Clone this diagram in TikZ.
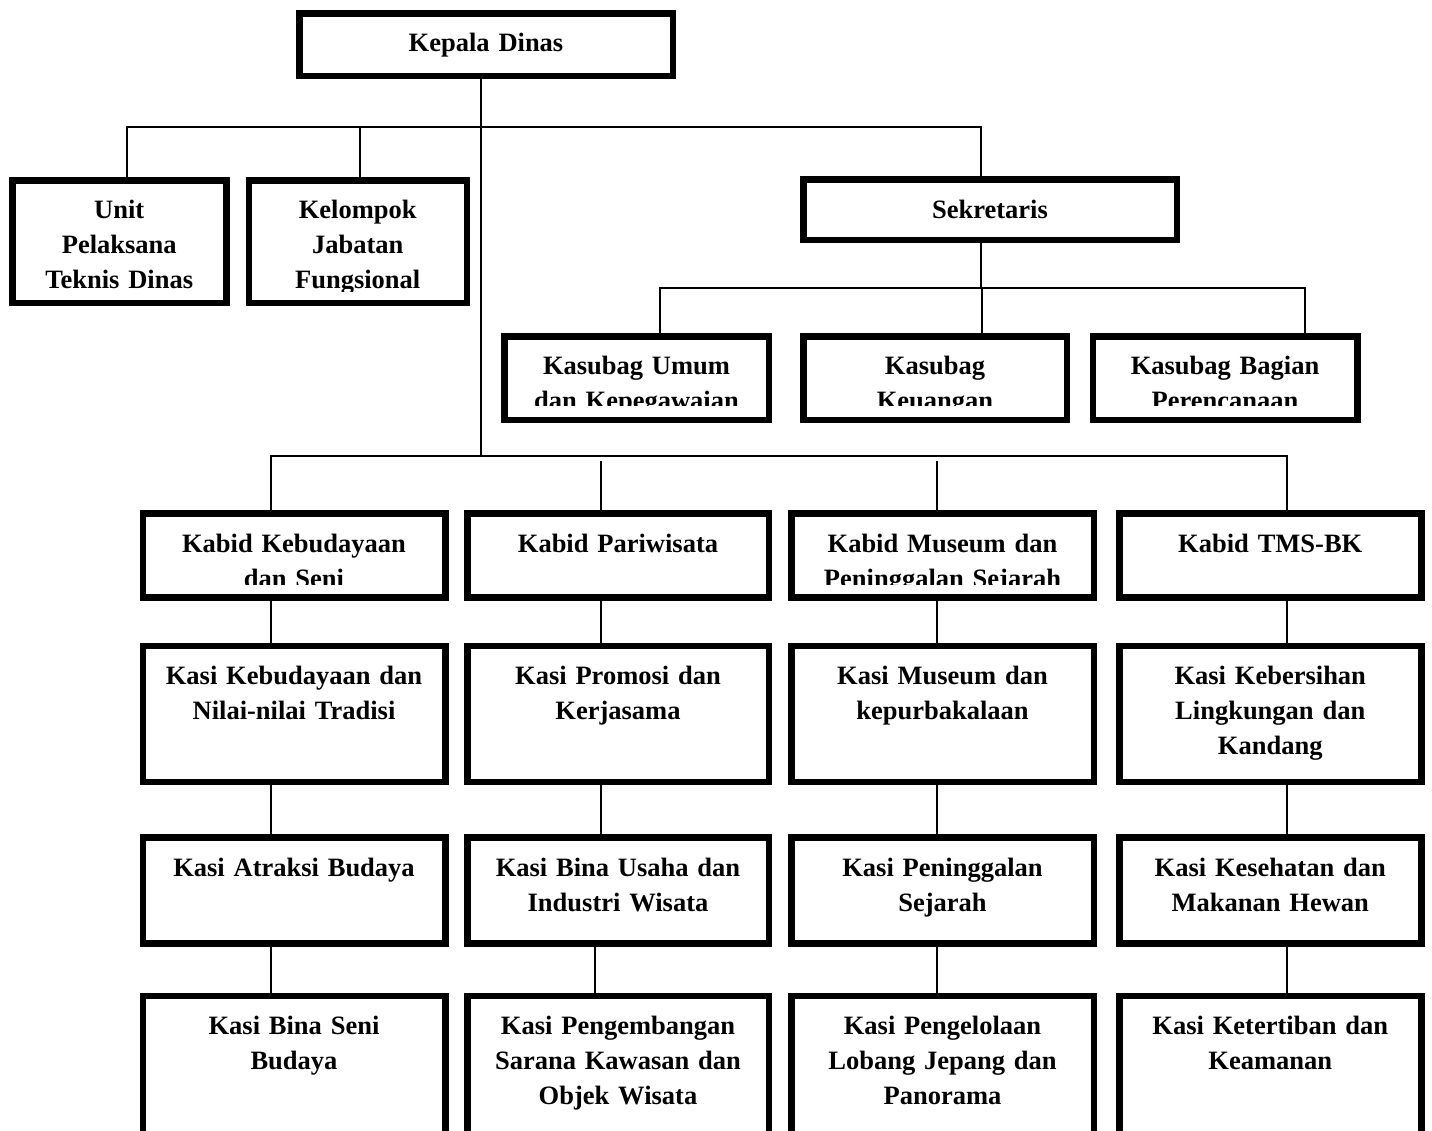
\documentclass[tikz,border=0pt]{standalone}
\usepackage{fontspec}
\setmainfont{Liberation Serif}
\begin{document}
\begin{tikzpicture}[x=1pt,y=-1pt,
  box/.style={draw, line width=6.5pt, inner sep=0pt, fill=none},
  lbl/.style={font=\fontsize{26.5}{35}\selectfont\bfseries, align=center, inner sep=0pt, text width=330pt, anchor=base},
  conn/.style={draw, line width=1.8pt}]
\clip (0,0) rectangle (1432,1130);
\fill[white] (0,0) rectangle (1432,1130);

% ---------- boxes ----------
\node[box, minimum width=373.5pt, minimum height=62.5pt] (kepala) at (486,44.5) {};
\node[box, minimum width=214pt, minimum height=122.5pt] (unit) at (119.25,241.5) {};
\node[box, minimum width=218pt, minimum height=122.5pt] (kel) at (357.75,241.5) {};
\node[box, minimum width=373.5pt, minimum height=60.5pt] (sek) at (990,209.5) {};
\node[box, minimum width=264.5pt, minimum height=83.5pt] (ks1) at (636.5,378) {};
\node[box, minimum width=263.5pt, minimum height=83.5pt] (ks2) at (935,378) {};
\node[box, minimum width=264.5pt, minimum height=83.5pt] (ks3) at (1225,378) {};

\node[box, minimum width=302.5pt, minimum height=84.2pt] (kb1) at (294,555.35) {};
\node[box, minimum width=301.5pt, minimum height=84.2pt] (kb2) at (618,555.35) {};
\node[box, minimum width=302.5pt, minimum height=84.2pt] (kb3) at (942.5,555.35) {};
\node[box, minimum width=302pt, minimum height=84.2pt] (kb4) at (1270.25,555.35) {};

\node[box, minimum width=302.5pt, minimum height=135.8pt] (a1) at (294,713.85) {};
\node[box, minimum width=301.5pt, minimum height=135.8pt] (a2) at (618,713.85) {};
\node[box, minimum width=302.5pt, minimum height=135.8pt] (a3) at (942.5,713.85) {};
\node[box, minimum width=302pt, minimum height=135.8pt] (a4) at (1270.25,713.85) {};

\node[box, minimum width=302.5pt, minimum height=106.2pt] (b1) at (294,890.35) {};
\node[box, minimum width=301.5pt, minimum height=106.2pt] (b2) at (618,890.35) {};
\node[box, minimum width=302.5pt, minimum height=106.2pt] (b3) at (942.5,890.35) {};
\node[box, minimum width=302pt, minimum height=106.2pt] (b4) at (1270.25,890.35) {};

\node[box, minimum width=302.5pt, minimum height=200.8pt] (c1) at (294,1096.35) {};
\node[box, minimum width=301.5pt, minimum height=200.8pt] (c2) at (618,1096.35) {};
\node[box, minimum width=302.5pt, minimum height=200.8pt] (c3) at (942.5,1096.35) {};
\node[box, minimum width=302pt, minimum height=200.8pt] (c4) at (1270.25,1096.35) {};

% ---------- texts ----------
\node[lbl] (kepala-t) at (486,51.7) {Kepala Dinas};
\begin{scope}
\clip (12,180) rectangle (470,291);
\node[lbl] (unit-t) at (119.25,218.3) {Unit\\Pelaksana\\Teknis Dinas};
\node[lbl] (kel-t) at (357.75,218.3) {Kelompok\\Jabatan\\Fungsional};
\end{scope}
\node[lbl] (sek-t) at (990,218.3) {Sekretaris};
\begin{scope}
\clip (500,336) rectangle (1362,405);
\node[lbl] (ks1-t) at (636.5,374) {Kasubag Umum\\dan Kepegawaian};
\node[lbl] (ks2-t) at (935,374) {Kasubag\\Keuangan};
\node[lbl] (ks3-t) at (1225,374) {Kasubag Bagian\\Perencanaan};
\end{scope}
\begin{scope}
\clip (140,513) rectangle (1424,584);
\node[lbl] (kb1-t) at (294,552.5) {Kabid Kebudayaan\\dan Seni};
\node[lbl] (kb2-t) at (618,552.5) {Kabid Pariwisata};
\node[lbl] (kb3-t) at (942.5,552.5) {Kabid Museum dan\\Peninggalan Sejarah};
\node[lbl] (kb4-t) at (1270.25,552.5) {Kabid TMS-BK};
\end{scope}

\node[lbl] (a1-t) at (294,684.3) {Kasi Kebudayaan dan\\Nilai-nilai Tradisi};
\node[lbl] (a2-t) at (618,684.3) {Kasi Promosi dan\\Kerjasama};
\node[lbl] (a3-t) at (942.5,684.3) {Kasi Museum dan\\kepurbakalaan};
\node[lbl] (a4-t) at (1270.25,684.3) {Kasi Kebersihan\\Lingkungan dan\\Kandang};

\node[lbl] (b1-t) at (294,876.7) {Kasi Atraksi Budaya};
\node[lbl] (b2-t) at (618,876.7) {Kasi Bina Usaha dan\\Industri Wisata};
\node[lbl] (b3-t) at (942.5,876.7) {Kasi Peninggalan\\Sejarah};
\node[lbl] (b4-t) at (1270.25,876.7) {Kasi Kesehatan dan\\Makanan Hewan};

\node[lbl] (c1-t) at (294,1034.7) {Kasi Bina Seni\\Budaya};
\node[lbl] (c2-t) at (618,1034.7) {Kasi Pengembangan\\Sarana Kawasan dan\\Objek Wisata};
\node[lbl] (c3-t) at (942.5,1034.7) {Kasi Pengelolaan\\Lobang Jepang dan\\Panorama};
\node[lbl] (c4-t) at (1270.25,1034.7) {Kasi Ketertiban dan\\Keamanan};

% ---------- connector coordinates ----------
\coordinate (j1) at (481,127);
\coordinate (j3) at (481,456);
\coordinate (xu) at (127,0);
\coordinate (xk) at (360,0);
\coordinate (xs) at (981,0);
\coordinate (j2) at (981,288);
\coordinate (x1) at (659.7,0);
\coordinate (x2) at (981.6,0);
\coordinate (x3) at (1305,0);
\coordinate (k1) at (271,0);
\coordinate (k2) at (601,0);
\coordinate (k2b) at (595,0);
\coordinate (k3) at (937,0);
\coordinate (k4) at (1287,0);
\coordinate (g2) at (601,461);
\coordinate (g3) at (937,461);

% ---------- connectors ----------
\draw[conn] (kepala.south -| j1) -- (j3);
\draw[conn] (unit.north -| xu) -- (xu |- j1) -| (sek.north -| xs);
\draw[conn] (kel.north -| xk) -- (xk |- j1);

\draw[conn] (sek.south -| xs) -- (j2);
\draw[conn] (ks1.north -| x1) -- (x1 |- j2) -| (ks3.north -| x3);
\draw[conn] (ks2.north -| x2) -- (x2 |- j2);

\draw[conn] (kb1.north -| k1) -- (k1 |- j3) -| (kb4.north -| k4);
\draw[conn] (g2) -- (kb2.north -| g2);
\draw[conn] (g3) -- (kb3.north -| g3);

\draw[conn] (kb1.south -| k1) -- (a1.north -| k1);
\draw[conn] (a1.south -| k1) -- (b1.north -| k1);
\draw[conn] (b1.south -| k1) -- (c1.north -| k1);

\draw[conn] (kb2.south -| k2) -- (a2.north -| k2);
\draw[conn] (a2.south -| k2) -- (b2.north -| k2);
\draw[conn] (b2.south -| k2b) -- (c2.north -| k2b);

\draw[conn] (kb3.south -| k3) -- (a3.north -| k3);
\draw[conn] (a3.south -| k3) -- (b3.north -| k3);
\draw[conn] (b3.south -| k3) -- (c3.north -| k3);

\draw[conn] (kb4.south -| k4) -- (a4.north -| k4);
\draw[conn] (a4.south -| k4) -- (b4.north -| k4);
\draw[conn] (b4.south -| k4) -- (c4.north -| k4);
\end{tikzpicture}
\end{document}
